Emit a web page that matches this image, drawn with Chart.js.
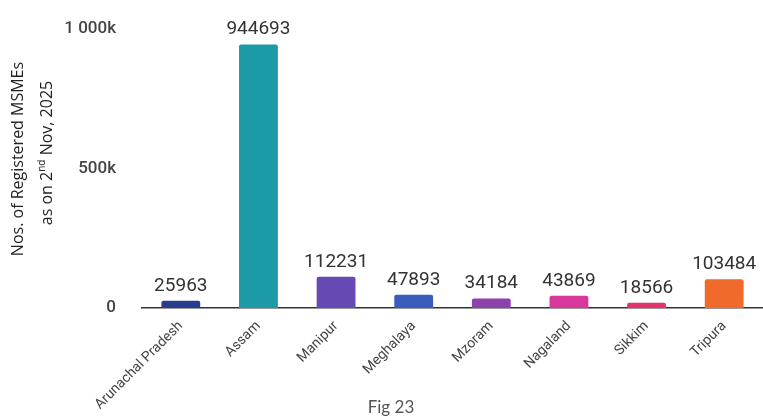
<!DOCTYPE html>
<html>
<head>
<meta charset="utf-8">
<script src="https://cdn.jsdelivr.net/npm/chart.js@4"></script>
<style>
  html, body { margin: 0; padding: 0; background: #fff; }
  #wrap { width: 763px; height: 417px; position: relative; }
</style>
</head>
<body>
<div id="wrap"><canvas id="msme"></canvas></div>
<script>
// states of the north east and registered MSMEs (as on 2nd Nov 2025)
var states = ["Arunachal Pradesh", "Assam", "Manipur", "Meghalaya", "Mzoram", "Nagaland", "Sikkim", "Tripura"];
var msmeCount = [25963, 944693, 112231, 47893, 34184, 43869, 18566, 103484];
var barColors = ["#283c8e", "#1c9aa6", "#6649b3", "#3a5cbc", "#8d42ab", "#d6389c", "#e6326a", "#f06a2c"];
var yTicks = [0, 500000, 1000000];
var yTickLabels = ["0", "500k", "1 000k"];

/*
 value labels above each bar
 */
var valueLabels = {
    id: "valueLabels",
    afterDatasetsDraw: function (chart) {
        var ctx = chart.ctx;
        var meta = chart.getDatasetMeta(0);
        ctx.save();
        ctx.font = "19px Roboto";
        ctx.fillStyle = "#333";
        ctx.textAlign = "center";
        ctx.textBaseline = "alphabetic";
        for (var i = 0; i < meta.data.length; i++) {
            var bar = meta.data[i];
            ctx.fillText(String(msmeCount[i]), bar.x, bar.y - 10);
        }
        ctx.restore();
    }
};

/*
 rotated y axis title (with superscript) and figure caption
 */
var sideText = {
    id: "sideText",
    afterDraw: function (chart) {
        var ctx = chart.ctx;
        ctx.save();
        ctx.fillStyle = "#222";
        ctx.textBaseline = "middle";

        ctx.save();
        ctx.translate(18, 159);
        ctx.rotate(-Math.PI / 2);
        ctx.textAlign = "center";
        ctx.font = "16px 'Open Sans'";
        ctx.fillText("Nos. of Registered MSMEs", 0, 0);
        ctx.restore();

        ctx.save();
        ctx.translate(47, 153);
        ctx.rotate(-Math.PI / 2);
        var p1 = "as on 2", sup = "nd", p2 = " Nov, 2025";
        ctx.font = "16px 'Open Sans'";
        var w1 = ctx.measureText(p1).width;
        var w3 = ctx.measureText(p2).width;
        ctx.font = "10px 'Open Sans'";
        var w2 = ctx.measureText(sup).width;
        var x = -(w1 + w2 + w3) / 2;
        ctx.textAlign = "left";
        ctx.font = "16px 'Open Sans'";
        ctx.fillText(p1, x, 0);
        ctx.font = "10px 'Open Sans'";
        ctx.fillText(sup, x + w1, -5);
        ctx.font = "16px 'Open Sans'";
        ctx.fillText(p2, x + w1 + w2, 0);
        ctx.restore();

        ctx.font = "17px Lato";
        ctx.fillStyle = "#555";
        ctx.textAlign = "center";
        ctx.fillText("Fig 23", 391, 408);
        ctx.restore();
    }
};

var ctx = document.getElementById("msme").getContext("2d");
var msmeChart = new Chart(ctx, {
    type: "bar",
    data: {
        labels: states,
        datasets: [{
            data: msmeCount,
            backgroundColor: barColors,
            borderRadius: 2,
            barPercentage: 0.5,
            categoryPercentage: 1
        }]
    },
    options: {
        responsive: true,
        maintainAspectRatio: false,
        animation: false,
        layout: { padding: { top: 29, left: 0, right: 0, bottom: 0 } },
        plugins: {
            legend: { display: false },
            tooltip: { enabled: false }
        },
        scales: {
            x: {
                grid: { display: false, drawTicks: false },
                border: { display: true, color: "#333", width: 1.5 },
                ticks: {
                    color: "#444",
                    font: { family: "Roboto", size: 14 },
                    minRotation: 45,
                    maxRotation: 45,
                    padding: 10,
                    autoSkip: false
                },
                afterFit: function (scale) { scale.height = 109; }
            },
            y: {
                min: 0,
                max: 1000000,
                afterBuildTicks: function (scale) {
                    scale.ticks = yTicks.map(function (v) { return { value: v }; });
                },
                grid: { display: false, drawTicks: false },
                border: { display: false },
                ticks: {
                    color: "#444",
                    font: { family: "Roboto", size: 17, weight: "500" },
                    padding: 26,
                    callback: function (value) {
                        var idx = yTicks.indexOf(value);
                        return idx >= 0 ? yTickLabels[idx] : "";
                    }
                },
                afterFit: function (scale) {
                    scale.width = 142;
                    // tick padding would otherwise push the plot area down
                    scale.paddingTop = 0;
                    scale.paddingBottom = 0;
                }
            }
        }
    },
    plugins: [valueLabels, sideText]
});
</script>
</body>
</html>
